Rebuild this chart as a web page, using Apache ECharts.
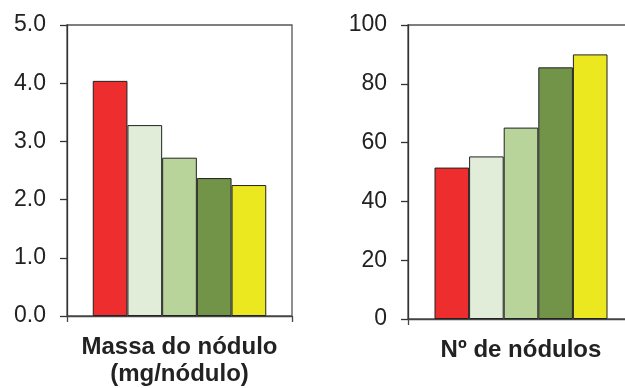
<!DOCTYPE html>
<html>
<head>
<meta charset="utf-8">
<script src="https://cdn.jsdelivr.net/npm/echarts@6/dist/echarts.min.js"></script>
<style>
html,body{margin:0;padding:0;background:#fff;overflow:hidden;}
#chart{width:640px;height:388px;}
</style>
</head>
<body>
<div id="chart"></div>
<script>
// ---- Data ----
const treatments = ['T1', 'T2', 'T3', 'T4', 'T5'];
const massaCategory = ['Massa do nódulo\n(mg/nódulo)'];
const numeroCategory = ['Nº de nódulos'];
const massaValues = [4.04, 3.28, 2.72, 2.37, 2.25];
const numeroValues = [51.5, 55.3, 65.1, 85.6, 90.0];
const massaTicks = [0, 1, 2, 3, 4, 5];
const numeroTicks = [0, 20, 40, 60, 80, 100];
// ---- Styles ----
const barColors = ['#EE2E2E', '#E1EDD8', '#B8D49B', '#729448', '#EBE820'];

const chart = echarts.init(document.getElementById('chart'), null, {renderer: 'canvas'});
const font = 'Liberation Sans, Arial, Helvetica, sans-serif';
const txt = '#222';

function xAxisCfg(gridIndex, cats) {
  return {
    type: 'category', gridIndex: gridIndex, data: cats,
    axisLine: {show: true, lineStyle: {color: '#444', width: 1.3}},
    axisTick: {show: true, length: 6, lineStyle: {color: '#444', width: 1.3}},
    axisLabel: {fontFamily: font, fontSize: 24, fontWeight: 'bold', color: txt,
      margin: 18, lineHeight: 27, interval: 0}
  };
}
function yAxisCfg(gridIndex, ticks, dec) {
  return {
    type: 'value', gridIndex: gridIndex,
    min: ticks[0], max: ticks[ticks.length - 1], interval: ticks[1] - ticks[0],
    axisLine: {show: true, lineStyle: {color: '#333', width: 1.3}},
    axisTick: {show: true, length: 7, lineStyle: {color: '#333', width: 1.3}},
    splitLine: {show: false},
    axisLabel: {fontFamily: font, fontSize: 23, color: txt, margin: 21,
      formatter: v => v.toFixed(dec)}
  };
}

const series = [];
treatments.forEach((t, i) => {
  series.push({
    name: t, type: 'bar', xAxisIndex: 0, yAxisIndex: 0,
    data: [massaValues[i]], barWidth: 34.7, barGap: '0%',
    itemStyle: {color: barColors[i], borderColor: '#222', borderWidth: 1}
  });
});
treatments.forEach((t, i) => {
  series.push({
    name: t, type: 'bar', xAxisIndex: 1, yAxisIndex: 1,
    data: [numeroValues[i]], barWidth: 34.6, barGap: '0%',
    itemStyle: {color: barColors[i], borderColor: '#222', borderWidth: 1}
  });
});

chart.setOption({
  animation: false,
  backgroundColor: '#fff',
  grid: [
    {left: 67, top: 25, width: 225, bottom: 69, show: true, borderColor: '#555', borderWidth: 1.3, backgroundColor: 'transparent'},
    {left: 408, top: 25, width: 226, bottom: 69, show: true, borderColor: '#555', borderWidth: 1.3, backgroundColor: 'transparent'}
  ],
  xAxis: [xAxisCfg(0, massaCategory), xAxisCfg(1, numeroCategory)],
  yAxis: [yAxisCfg(0, massaTicks, 1), yAxisCfg(1, numeroTicks, 0)],
  series: series
});
</script>
</body>
</html>
